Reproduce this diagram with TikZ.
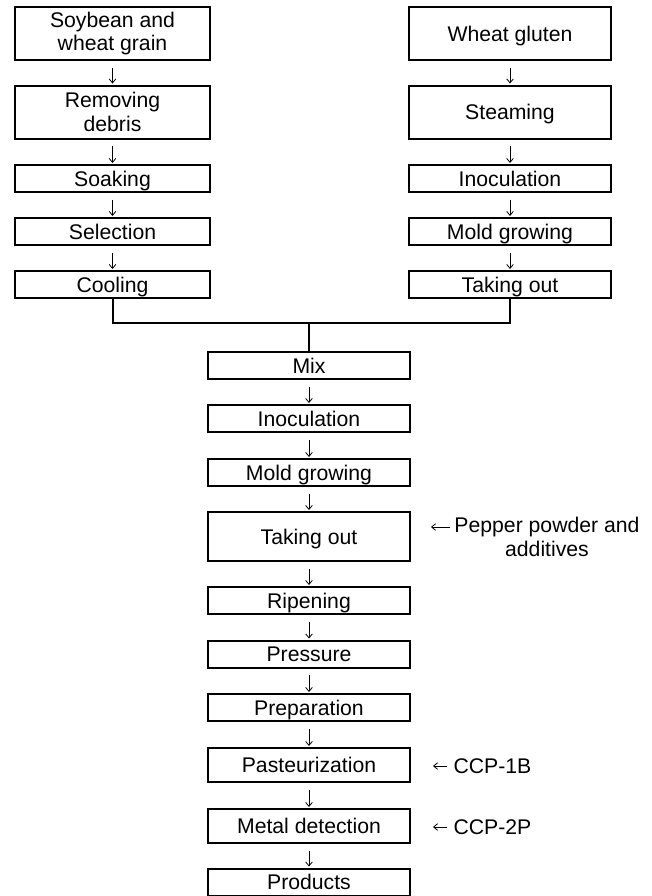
\documentclass[tikz,border=0pt]{standalone}
\usepackage{fontspec}
\setmainfont{Liberation Sans}
\usetikzlibrary{arrows.meta}

\tikzset{
	stepbox/.style={draw,line width=1.5pt,inner sep=0pt,align=center,
		text height=11.4pt,text depth=0pt,
		minimum height=20.25pt,font=\fontsize{15.9}{17.8}\selectfont},
	leftbox/.style={stepbox,minimum width=146.25pt},
	midbox/.style={stepbox,minimum width=151.5pt},
	tallbox/.style={minimum height=39.75pt},
	twoline/.style={text height=,text depth=},
	flow/.style={line width=0.6pt,-{Straight Barb[length=3pt,width=5pt]},
		shorten <=5pt,shorten >=0.75pt},
	link/.style={line width=1.5pt},
	sidenote/.style={align=center,inner sep=0pt,font=\fontsize{15.9}{17.8}\selectfont},
	sidearrow/.style={line width=0.6pt,-{Straight Barb[length=3pt,width=5pt]}}
}

\begin{document}
\begin{tikzpicture}[x=0.75pt,y=-0.75pt]
			\useasboundingbox (0,0) rectangle (651,896);

			% left branch
			\node[leftbox,tallbox,twoline] (soy) at (112.5,33.5) {Soybean and\\wheat grain};
			\node[leftbox,tallbox,twoline] (debris) at (112.5,112) {Removing\\debris};
			\node[leftbox] (soak) at (112.5,178.5) {Soaking};
			\node[leftbox] (select) at (112.5,231.5) {Selection};
			\node[leftbox] (cool) at (112.5,284.5) {Cooling};

			\draw[flow] (soy) -- (debris);
			\draw[flow] (debris) -- (soak);
			\draw[flow] (soak) -- (select);
			\draw[flow] (select) -- (cool);

			% right branch
			\node[midbox,tallbox] (gluten) at (510,33.5) {Wheat gluten};
			\node[midbox,tallbox] (steam) at (510,112) {Steaming};
			\node[midbox] (inocA) at (510,178.5) {Inoculation};
			\node[midbox] (moldA) at (510,231.5) {Mold growing};
			\node[midbox] (takeA) at (510,284.5) {Taking out};

			\draw[flow] (gluten) -- (steam);
			\draw[flow] (steam) -- (inocA);
			\draw[flow] (inocA) -- (moldA);
			\draw[flow] (moldA) -- (takeA);

			% joining the two branches
			\coordinate (join) at (309,323);
			\draw[link] (cool) -- (cool |- join) -- (takeA |- join) -- (takeA);

			% main line
			\node[midbox] (mix) at (309,365.5) {Mix};
			\node[midbox] (inocB) at (309,418.5) {Inoculation};
			\node[midbox] (moldB) at (309,472.5) {Mold growing};
			\node[midbox,minimum height=36.75pt] (takeB) at (309,536.5) {Taking out};
			\node[midbox] (ripen) at (309,600.5) {Ripening};
			\node[midbox] (press) at (309,654) {Pressure};
			\node[midbox] (prep) at (309,707.5) {Preparation};
			\node[midbox,minimum height=25.5pt] (pasteur) at (309,765) {Pasteurization};
			\node[midbox,minimum height=25.5pt] (metal) at (309,826) {Metal detection};
			\node[midbox] (prod) at (309,882) {Products};

			\draw[link] (join) -- (mix);
			\draw[flow] (mix) -- (inocB);
			\draw[flow] (inocB) -- (moldB);
			\draw[flow] (moldB) -- (takeB);
			\draw[flow] (takeB) -- (ripen);
			\draw[flow] (ripen) -- (press);
			\draw[flow] (press) -- (prep);
			\draw[flow] (prep) -- (pasteur);
			\draw[flow] (pasteur) -- (metal);
			\draw[flow] (metal) -- (prod);

			% side notes
			\node[sidenote] (pepper) at (547,537) {Pepper powder and\\additives};
			\node[sidenote,text height=11.4pt,text depth=0pt] (ccpA) at (492.5,766) {CCP-1B};
			\node[sidenote,text height=11.4pt,text depth=0pt] (ccpB) at (492.5,827) {CCP-2P};

			\draw[sidearrow,shorten <=3pt,shorten >=15pt]
				([yshift=7.5pt]pepper.west) -- ([yshift=7.5pt]pepper.west -| takeB.east);
			\draw[sidearrow,shorten <=4.5pt,shorten >=16.5pt] (ccpA) -- (ccpA -| pasteur.east);
			\draw[sidearrow,shorten <=4.5pt,shorten >=16.5pt] (ccpB) -- (ccpB -| metal.east);
		\end{tikzpicture}
\end{document}
